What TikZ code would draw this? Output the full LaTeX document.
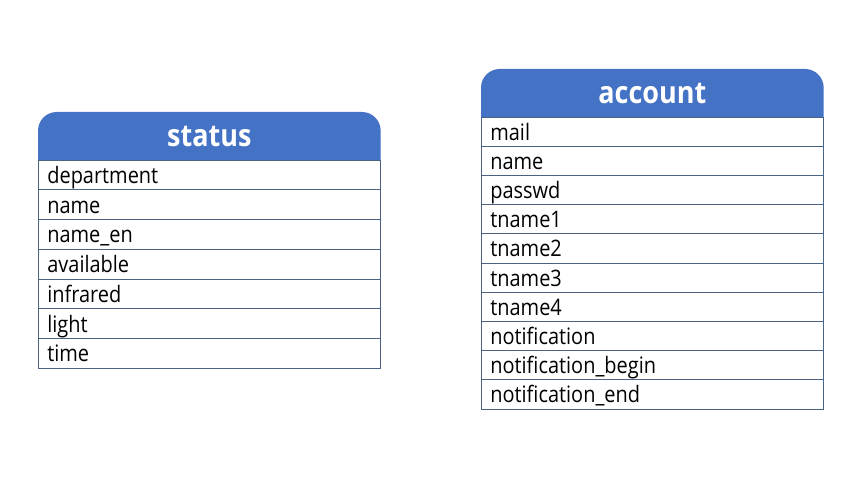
\documentclass[tikz,border=0pt]{standalone}
\usepackage{fontspec}
\setmainfont[FakeStretch=0.88]{Open Sans}
\usetikzlibrary{positioning,backgrounds}

\definecolor{headblue}{HTML}{4472C4}
\definecolor{rowline}{HTML}{4A6283}

\tikzset{
  tblhead/.style={minimum width=257pt, minimum height=36pt, inner sep=0pt, outer sep=0pt,
    text=white, font=\fontsize{23}{26}\selectfont\bfseries},
  tblrow/.style={draw=rowline, line width=0.6pt, inner xsep=7pt, inner ysep=0pt, outer sep=0pt,
    text width=243pt, minimum height=#1, align=left,
    text height=12.8pt, text depth=0pt, font=\fontsize{17}{19}\selectfont},
  tblrow/.default=22pt
}

\begin{document}
\begin{tikzpicture}[x=0.75pt,y=-0.75pt]
  \useasboundingbox (0,0) rectangle (856,481);

  % status table
  \node[tblhead, anchor=north west] (status-h) at (38,112) {status};
  \foreach \f [count=\i, remember=\i as \j (initially h)] in
      {department,name,name\_en,available,infrared,light,time}
    \node[tblrow=22.3pt, below=0pt of status-\j] (status-\i) {\f};

  % account table
  \node[tblhead, anchor=north west] (account-h) at (481,69) {account};
  \foreach \f [count=\i, remember=\i as \j (initially h)] in
      {mail,name,passwd,tname1,tname2,tname3,tname4,notification,
       notification\_begin,notification\_end}
    \node[tblrow=21.9pt, below=0pt of account-\j] (account-\i) {\f};

  % header backgrounds, top corners rounded
  \begin{scope}[on background layer]
    \fill[headblue, rounded corners=14pt] (status-h.south west) -- (status-h.north west)
      -- (status-h.north east) -- (status-h.south east);
    \fill[headblue, rounded corners=14pt] (account-h.south west) -- (account-h.north west)
      -- (account-h.north east) -- (account-h.south east);
  \end{scope}
\end{tikzpicture}
\end{document}
